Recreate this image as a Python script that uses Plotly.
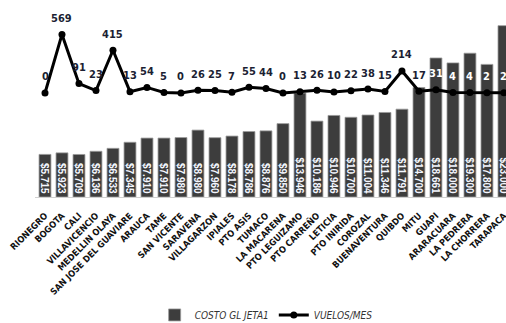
import plotly.graph_objects as go

categories = ["RIONEGRO", "BOGOTA", "CALI", "VILLAVICENCIO", "MEDELLIN OLAYA",
              "SAN JOSE DEL GUAVIARE", "ARAUCA", "TAME", "SAN VICENTE", "SARAVENA",
              "VILLAGARZON", "IPIALES", "PTO ASIS", "TUMACO", "LA MACARENA",
              "PTO LEGUIZAMO", "PTO CARREÑO", "LETICIA", "PTO INIRIDA", "COROZAL",
              "BUENAVENTURA", "QUIBDO", "MITU", "GUAPI", "ARARACUARA", "LA PEDRERA",
              "LA CHORRERA", "TARAPACA"]
costo = [5715, 5923, 5709, 6136, 6533, 7345, 7910, 7910, 7980, 8980,
         7960, 8178, 8786, 8876, 9850, 13946, 10186, 10946, 10700, 11004,
         11346, 11791, 14700, 18661, 18000, 19300, 17800, 23000]
vuelos = [0, 569, 91, 23, 415, 13, 54, 5, 0, 26,
          25, 7, 55, 44, 0, 13, 26, 10, 22, 38,
          15, 214, 17, 31, 4, 4, 2, 2]

NARROW = "DejaVu Sans Condensed, sans-serif"

costo_text = ["$" + f"{v:,}".replace(",", ".") for v in costo]

fig = go.Figure()
fig.add_trace(go.Bar(
    x=categories, y=costo, name="COSTO GL JETA1",
    marker=dict(color="#3d3d3d", line=dict(color="#9a9a9a", width=0.8)),
    text=costo_text, textposition="inside", insidetextanchor="start",
    textangle=90, textfont=dict(family="Liberation Sans, Arial, sans-serif",
                                size=10, color="#f4f7ff", weight="bold"),
    hoverinfo="skip",
))
fig.add_trace(go.Scatter(
    x=categories, y=vuelos, name="VUELOS/MES", yaxis="y2",
    mode="lines+markers",
    line=dict(color="#000000", width=3),
    marker=dict(color="#000000", size=7),
))

on_bar = [False] * 23 + [True] * 5
for c, v, ob in zip(categories, vuelos, on_bar):
    fig.add_annotation(
        x=c, y=v, xref="x", yref="y2", text=str(v), showarrow=False,
        yshift=16,
        font=dict(family=NARROW, size=11, weight="bold",
                  color="#ffffff" if ob else "#1c1f33"),
    )

fig.update_layout(
    width=506, height=323,
    margin=dict(l=35, r=0, t=0, b=126, autoexpand=False),
    paper_bgcolor="white", plot_bgcolor="white",
    bargap=0.3,
    showlegend=True,
    uniformtext=dict(minsize=10, mode="show"),
    legend=dict(orientation="h", xref="container", yref="container",
                x=0.526, xanchor="center", y=0.025, yanchor="middle",
                font=dict(family=NARROW, size=10, color="#333333", style="italic"),
                itemwidth=30, bgcolor="rgba(0,0,0,0)"),
    xaxis=dict(range=[-0.588, 27.12], showline=True, linecolor="#d0d0d0", linewidth=1,
               ticks="", tickangle=-45, showgrid=False, automargin=False,
               ticklabelstandoff=9,
               tickfont=dict(family=NARROW, size=9, color="#111111", weight="bold")),
    yaxis=dict(range=[0, 26443], visible=False, showgrid=False, zeroline=False),
    yaxis2=dict(range=[-1010, 903], overlaying="y", visible=False, showgrid=False,
                zeroline=False),
)

fig.write_html("out.html")
